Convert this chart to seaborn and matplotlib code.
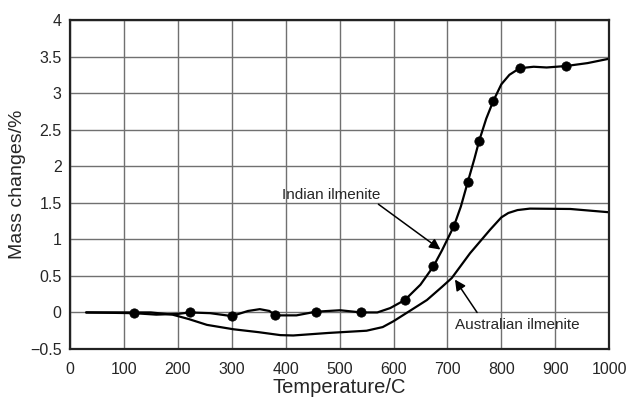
import pandas as pd
import seaborn as sns
import matplotlib.pyplot as plt

# Indian ilmenite curve (temperature C, mass change %)
indian_temp = [30, 119, 160, 200, 222, 260, 300, 330, 352, 370, 380, 420, 456, 501, 540, 570,
               594, 621, 650, 674, 690, 712, 725, 738, 750, 759, 772, 785, 800, 815, 834, 860,
               884, 920, 960, 1000]
indian_mass = [0, -0.01, -0.03, -0.02, 0, -0.01, -0.05, 0.02, 0.045, 0.02, -0.04, -0.04, 0.01, 0.03,
               0, 0.0, 0.06, 0.17, 0.38, 0.63, 0.85, 1.18, 1.45, 1.79, 2.1, 2.35, 2.65, 2.89, 3.12,
               3.25, 3.34, 3.36, 3.35, 3.37, 3.41, 3.47]

# measured points on the Indian curve
dot_temp = [119, 222, 300, 380, 456, 540, 621, 674, 712, 738, 759, 785, 834, 920]
dot_mass = [-0.01, 0.0, -0.05, -0.04, 0.01, 0.0, 0.17, 0.63, 1.18, 1.79, 2.35, 2.89, 3.34, 3.37]

# Australian ilmenite curve
aus_temp = [30, 150, 190, 220, 254, 303, 350, 390, 414, 480, 550, 580, 600, 630, 662, 690, 708,
            742, 779, 800, 813, 830, 853, 928, 1000]
aus_mass = [0, 0, -0.03, -0.09, -0.17, -0.23, -0.27, -0.31, -0.315, -0.28, -0.25, -0.2, -0.12,
            0.02, 0.17, 0.35, 0.47, 0.81, 1.13, 1.3, 1.36, 1.4, 1.42, 1.415, 1.37]

xticks = list(range(0, 1001, 100))
yticks = [-0.5, 0, 0.5, 1, 1.5, 2, 2.5, 3, 3.5, 4]
ytick_labels = ['\u22120.5', '0', '0.5', '1', '1.5', '2', '2.5', '3', '3.5', '4']

sns.set_style("white")
plt.rcParams['font.family'] = ['Liberation Sans', 'DejaVu Sans']

df_ind = pd.DataFrame({'temp': indian_temp, 'mass': indian_mass})
df_aus = pd.DataFrame({'temp': aus_temp, 'mass': aus_mass})
df_dot = pd.DataFrame({'temp': dot_temp, 'mass': dot_mass})

fig = plt.figure(figsize=(6.28, 3.99), dpi=100)
ax = fig.add_axes([0.1115, 0.1253, 0.8585, 0.8247])

sns.lineplot(data=df_ind, x='temp', y='mass', color='black', lw=1.6, sort=False, ax=ax)
sns.lineplot(data=df_aus, x='temp', y='mass', color='black', lw=1.6, sort=False, ax=ax)
sns.scatterplot(data=df_dot, x='temp', y='mass', color='black', s=45, edgecolor='black',
                zorder=5, ax=ax)

ax.set_xlim(0, 1000)
ax.set_ylim(-0.5, 4)
ax.set_xticks(xticks)
ax.set_yticks(yticks)
ax.set_yticklabels(ytick_labels)
ax.grid(True, color='#707070', lw=1.0)
ax.tick_params(length=0, labelsize=11.5, pad=6)
ax.tick_params(axis='x', pad=9)
for s in ax.spines.values():
    s.set_color('#222222')
    s.set_linewidth(1.6)

ax.set_xlabel('Temperature/C', fontsize=14.5, labelpad=1)
ax.set_ylabel('Mass changes/%', fontsize=14, labelpad=3)

arrow = dict(arrowstyle='-|>', color='black', lw=1.1, mutation_scale=16, shrinkA=0, shrinkB=0)
ax.text(485, 1.6, 'Indian ilmenite', fontsize=11, ha='center', va='center')
ax.annotate('', xy=(687, 0.86), xytext=(572, 1.48), arrowprops=arrow)
ax.text(829, -0.17, 'Australian ilmenite', fontsize=11, ha='center', va='center')
ax.annotate('', xy=(714, 0.45), xytext=(755, 0.0), arrowprops=arrow)

fig.savefig('out.png', dpi=100)
